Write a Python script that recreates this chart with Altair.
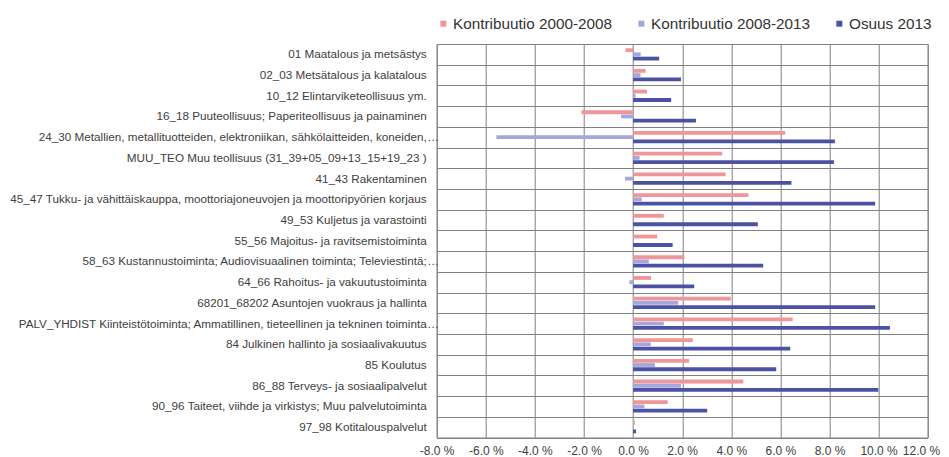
import altair as alt
import pandas as pd

categories = [
    "01 Maatalous ja metsästys",
    "02_03 Metsätalous ja kalatalous",
    "10_12 Elintarviketeollisuus ym.",
    "16_18 Puuteollisuus; Paperiteollisuus ja painaminen",
    "24_30 Metallien, metallituotteiden, elektroniikan, sähkölaitteiden, koneiden,",
    "MUU_TEO Muu teollisuus (31_39+05_09+13_15+19_23 )",
    "41_43 Rakentaminen",
    "45_47 Tukku- ja vähittäiskauppa, moottoriajoneuvojen ja moottoripyörien korjaus",
    "49_53 Kuljetus ja varastointi",
    "55_56 Majoitus- ja ravitsemistoiminta",
    "58_63 Kustannustoiminta; Audiovisuaalinen toiminta; Televiestintä;",
    "64_66 Rahoitus- ja vakuutustoiminta",
    "68201_68202 Asuntojen vuokraus ja hallinta",
    "PALV_YHDIST Kiinteistötoiminta; Ammatillinen, tieteellinen ja tekninen toiminta",
    "84 Julkinen hallinto ja sosiaalivakuutus",
    "85 Koulutus",
    "86_88 Terveys- ja sosiaalipalvelut",
    "90_96 Taiteet, viihde ja virkistys; Muu palvelutoiminta",
    "97_98 Kotitalouspalvelut",
]
# categories whose label is truncated with an ellipsis in the original
truncated = [False, False, False, False, True, False, False, False, False, False,
             True, False, False, True, False, False, False, False, False]

series = ["Kontribuutio 2000-2008", "Kontribuutio 2008-2013", "Osuus 2013"]

kontribuutio_2000_2008 = [-0.31, 0.51, 0.57, -2.10, 6.19, 3.63, 3.77, 4.70, 1.25, 0.98,
                          2.09, 0.73, 3.98, 6.50, 2.43, 2.28, 4.49, 1.41, 0.07]
kontribuutio_2008_2013 = [0.31, 0.30, 0.10, -0.49, -5.57, 0.26, -0.33, 0.35, 0.02, 0.03,
                          0.64, -0.15, 1.84, 1.25, 0.72, 0.89, 1.95, 0.46, 0.02]
osuus_2013 = [1.06, 1.95, 1.55, 2.56, 8.22, 8.18, 6.45, 9.86, 5.08, 1.61,
              5.30, 2.49, 9.86, 10.46, 6.40, 5.83, 9.99, 3.02, 0.12]

x_ticks = [-8, -6, -4, -2, 0, 2, 4, 6, 8, 10, 12]
colors = ["#f0959a", "#a3a7d9", "#4b52a3"]

rows = []
for s, vals in zip(series, [kontribuutio_2000_2008, kontribuutio_2008_2013, osuus_2013]):
    for c, v in zip(categories, vals):
        rows.append({"category": c, "series": s, "value": v})
df = pd.DataFrame(rows)

labels_df = pd.DataFrame({"category": categories, "trunc": truncated})
dots_df = labels_df[labels_df["trunc"]].copy()
dots_df["dots"] = "…"

y_enc = alt.Y("category:N", sort=categories,
              scale=alt.Scale(paddingInner=0, paddingOuter=0),
              axis=alt.Axis(title=None, grid=True, tickBand="extent", gridColor="#808080",
                            ticks=False, tickSize=0, domain=False, labels=False))

bars = alt.Chart(df).mark_bar().encode(
    x=alt.X("value:Q",
            scale=alt.Scale(domain=[-8, 12], nice=False, zero=False),
            axis=alt.Axis(values=x_ticks, title=None, grid=True, gridColor="#808080",
                          ticks=False, domain=False, labelFontSize=12, labelColor="#404040",
                          labelPadding=8, labelOverlap=False, labelFlush=False,
                          labelAlign={"condition": {"test": "datum.value == 12", "value": "right"},
                                      "value": "center"},
                          labelOffset={"condition": {"test": "datum.value == 12", "value": 12},
                                       "value": 0},
                          labelExpr="(datum.value < 0 ? '-' : '') + format(abs(datum.value), '.1f') + ' %'")),
    y=y_enc,
    yOffset=alt.YOffset("series:N", sort=series,
                        scale=alt.Scale(paddingInner=0.1, paddingOuter=1)),
    color=alt.Color("series:N", sort=series,
                    scale=alt.Scale(domain=series, range=colors),
                    legend=alt.Legend(title=None, orient="none", direction="horizontal",
                                      legendX=-1, legendY=-28, symbolType="square",
                                      symbolSize=36, symbolStrokeWidth=0,
                                      labelFontSize=15.3, labelColor="#333333",
                                      columnPadding=21, labelOffset=2)),
)

label_text = alt.Chart(labels_df).mark_text(
    align="right", baseline="middle", fontSize=11.7, color="#404040"
).encode(
    y=alt.Y("category:N", sort=categories),
    x=alt.value(-10),
    text="category:N",
)

dots_text = alt.Chart(dots_df).mark_text(
    align="left", baseline="middle", fontSize=11.7, color="#404040"
).encode(
    y=alt.Y("category:N", sort=categories),
    x=alt.value(-9.5),
    text="dots:N",
)

chart = alt.layer(bars, label_text, dots_text).properties(
    width=491,
    height=393.5,
    autosize=alt.AutoSizeParams(type="none"),
    padding={"left": 428.7, "top": 36, "right": 12.3, "bottom": 19.5},
).configure(
    font="Liberation Sans",
).configure_view(
    stroke="#808080", strokeWidth=1
)

chart.save("out.html", embed_options={"renderer": "svg", "actions": False})
